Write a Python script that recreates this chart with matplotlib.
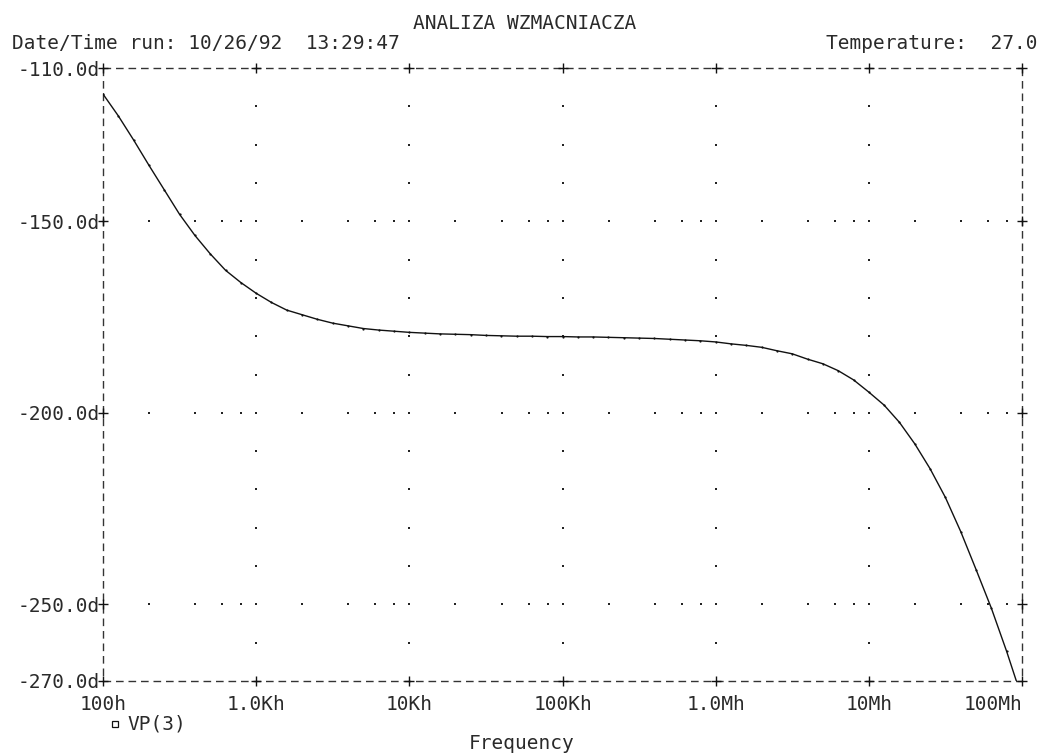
import numpy as np
import matplotlib
matplotlib.use("Agg")
import matplotlib.pyplot as plt
from matplotlib.lines import Line2D

# ---------------- data ----------------
# AC sweep: 10 points per decade, 100 Hz .. 100 MHz
freq_hz = np.logspace(2, 8, 61)
vp3_deg = [
    -116.8, -122.5, -128.8, -135.4, -141.8, -148.2, -153.7, -158.5, -162.8, -166.0,
    -168.8, -171.2, -173.2, -174.4, -175.6, -176.6, -177.3, -178.0, -178.4, -178.7,
    -179.0, -179.2, -179.4, -179.5, -179.6, -179.8, -179.9, -180.0, -180.0, -180.1,
    -180.1, -180.2, -180.2, -180.3, -180.4, -180.5, -180.6, -180.8, -181.0, -181.2,
    -181.5, -182.0, -182.4, -182.9, -183.8, -184.6, -186.0, -187.2, -189.0, -191.4,
    -194.6, -198.0, -202.5, -208.1, -214.6, -222.1, -231.0, -240.9, -251.0, -262.3,
    -274.5,
]

x_ticks = [1e2, 1e3, 1e4, 1e5, 1e6, 1e7, 1e8]
x_tick_labels = ["100h", "1.0Kh", "10Kh", "100Kh", "1.0Mh", "10Mh", "100Mh"]
y_ticks = [-110, -150, -200, -250, -270]
y_tick_labels = ["-110.0d", "-150.0d", "-200.0d", "-250.0d", "-270.0d"]
y_minor_rows = [-120, -130, -140, -160, -170, -180, -190, -210, -220, -230, -240, -260]
grid_rows = [-150, -200, -250]
row_multipliers = [2, 4, 6, 8, 10]

title = "ANALIZA WZMACNIACZA"
date_text = "Date/Time run: 10/26/92  13:29:47"
temp_text = "Temperature:  27.0"
xlabel = "Frequency"
trace_name = "VP(3)"

# ---------------- figure ----------------
W, H = 1039, 754
fig = plt.figure(figsize=(W / 100, H / 100), dpi=100)
fig.patch.set_facecolor("white")

L, R, T, B = 103, 1022, 68, 681
ax = fig.add_axes([L / W, 1 - B / H, (R - L) / W, (B - T) / H])
ax.set_xscale("log")
ax.set_xlim(1e2, 1e8)
ax.set_ylim(-270, -110)
for s in ax.spines.values():
    s.set_visible(False)

FONT = "DejaVu Sans Mono"
FS = 14
INK = "#111111"
TXT = "#2a2a2a"

# dashed border
dash = (0, (5.5, 3.5))
bc = "#333333"
ax.plot([1e2, 1e8], [-110, -110], color=bc, lw=1.0, linestyle=dash, clip_on=False)
ax.plot([1e2, 1e8], [-270, -270], color=bc, lw=1.0, linestyle=dash, clip_on=False)
ax.plot([1e2, 1e2], [-110, -270], color=bc, lw=1.0, linestyle=dash, clip_on=False)
ax.plot([1e8, 1e8], [-110, -270], color=bc, lw=1.0, linestyle=dash, clip_on=False)

# crosses at tick positions on borders
cx = x_ticks + x_ticks
cy = [-110] * len(x_ticks) + [-270] * len(x_ticks)
cx += [1e2] * len(grid_rows) + [1e8] * len(grid_rows)
cy += grid_rows + grid_rows
ax.plot(cx, cy, linestyle="none", marker="+", markersize=7.5, mew=1.0,
        color=INK, clip_on=False, zorder=4)

# dotted grid rows (horizontal) at major y values
dx, dy = [], []
for yv in grid_rows:
    for dec in x_ticks[:-1]:
        for m in row_multipliers:
            xv = dec * m
            if xv < 1e8:
                dx.append(xv)
                dy.append(yv)
# vertical dotted columns at interior decades
for xv in x_ticks[1:-1]:
    for yv in y_minor_rows:
        dx.append(xv)
        dy.append(yv)
ax.plot(dx, dy, linestyle="none", marker="s", markersize=1.5, mew=0,
        color="#222222", zorder=2)

# trace
ax.plot(freq_hz, vp3_deg, color=INK, lw=1.0, marker="o", markersize=1.6,
        mew=0, zorder=3)

# ticks
ax.set_xticks(x_ticks)
ax.set_xticklabels(x_tick_labels)
ax.set_yticks(y_ticks)
ax.set_yticklabels(y_tick_labels)
ax.minorticks_off()
ax.tick_params(axis="both", length=0, labelsize=FS, colors=TXT)
ax.tick_params(axis="x", pad=10)
ax.tick_params(axis="y", pad=2)
for lab in ax.get_xticklabels() + ax.get_yticklabels():
    lab.set_fontfamily(FONT)
ax.get_xticklabels()[-1].set_horizontalalignment("right")

def ftext(x, y, s, **kw):
    fig.text(x / W, 1 - y / H, s, fontfamily=FONT, fontsize=FS, color=TXT, **kw)

ftext(525, 29, title, ha="center", va="baseline")
ftext(12, 49, date_text, ha="left", va="baseline")
ftext(1037, 49, temp_text, ha="right", va="baseline")
ftext(522, 749, xlabel, ha="center", va="baseline")
ftext(127, 730, trace_name, ha="left", va="baseline")

# legend symbol
fig.add_artist(Line2D([115 / W], [1 - 724 / H], marker="s", markersize=4.5,
                      markerfacecolor="white", markeredgecolor=INK, mew=0.9,
                      linestyle="none"))

fig.savefig("out.png", dpi=100, facecolor="white")
